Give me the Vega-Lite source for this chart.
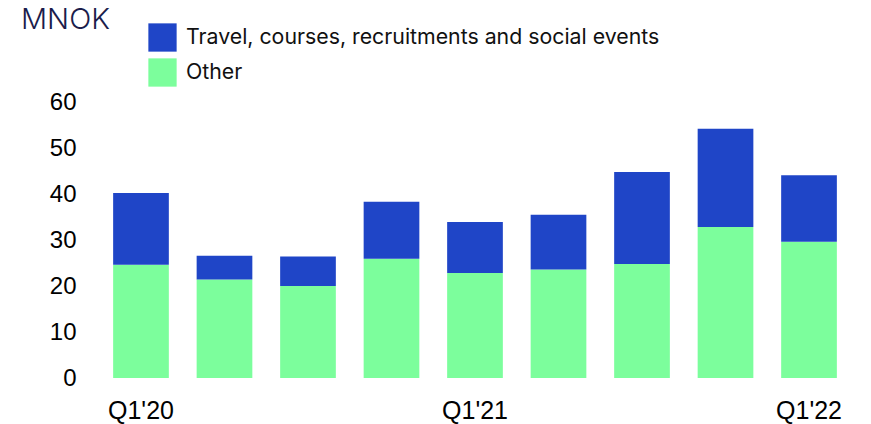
{
  "$schema": "https://vega.github.io/schema/vega-lite/v6.json",
  "width": 780,
  "height": 276,
  "autosize": "none",
  "padding": {"left": 85, "top": 102, "right": 6, "bottom": 46},
  "background": "white",
  "config": {"view": {"stroke": null}},
  "data": {
    "values": [
      {"quarter": "Q1'20", "category": "Other", "value": 24.6},
      {"quarter": "Q1'20", "category": "Travel, courses, recruitments and social events", "value": 15.6},
      {"quarter": "Q2'20", "category": "Other", "value": 21.4},
      {"quarter": "Q2'20", "category": "Travel, courses, recruitments and social events", "value": 5.2},
      {"quarter": "Q3'20", "category": "Other", "value": 20.0},
      {"quarter": "Q3'20", "category": "Travel, courses, recruitments and social events", "value": 6.4},
      {"quarter": "Q4'20", "category": "Other", "value": 25.9},
      {"quarter": "Q4'20", "category": "Travel, courses, recruitments and social events", "value": 12.4},
      {"quarter": "Q1'21", "category": "Other", "value": 22.8},
      {"quarter": "Q1'21", "category": "Travel, courses, recruitments and social events", "value": 11.1},
      {"quarter": "Q2'21", "category": "Other", "value": 23.6},
      {"quarter": "Q2'21", "category": "Travel, courses, recruitments and social events", "value": 11.9},
      {"quarter": "Q3'21", "category": "Other", "value": 24.8},
      {"quarter": "Q3'21", "category": "Travel, courses, recruitments and social events", "value": 20.0},
      {"quarter": "Q4'21", "category": "Other", "value": 32.8},
      {"quarter": "Q4'21", "category": "Travel, courses, recruitments and social events", "value": 21.4},
      {"quarter": "Q1'22", "category": "Other", "value": 29.6},
      {"quarter": "Q1'22", "category": "Travel, courses, recruitments and social events", "value": 14.5}
    ]
  },
  "mark": {"type": "bar"},
  "encoding": {
    "x": {
      "field": "quarter",
      "type": "nominal",
      "sort": null,
      "scale": {"paddingInner": 0.333, "paddingOuter": 0.337},
      "axis": {
        "title": null,
        "ticks": false,
        "domain": false,
        "labelAngle": 0,
        "labelFont": "Liberation Sans",
        "labelFontSize": 25,
        "labelColor": "#000000",
        "labelPadding": 20,
        "labelExpr": "substring(datum.value, 0, 2) === 'Q1' ? datum.value : ''"
      }
    },
    "y": {
      "field": "value",
      "type": "quantitative",
      "stack": "zero",
      "scale": {"domain": [0, 60], "nice": false},
      "axis": {
        "values": [0, 10, 20, 30, 40, 50, 60],
        "grid": false,
        "ticks": false,
        "domain": false,
        "labelFont": "Liberation Sans",
        "labelFontSize": 24,
        "labelColor": "#000000",
        "labelPadding": 9,
        "title": "MNOK",
        "titleAngle": 0,
        "titleX": -64.5,
        "titleY": -74,
        "titleAlign": "left",
        "titleBaseline": "alphabetic",
        "titleFont": "Inter",
        "titleFontSize": 29,
        "titleFontWeight": 300,
        "titleColor": "#1b1c4b"
      }
    },
    "color": {
      "field": "category",
      "type": "nominal",
      "scale": {
        "domain": ["Travel, courses, recruitments and social events", "Other"],
        "range": ["#1f45c7", "#7cfe9c"]
      },
      "legend": {
        "title": null,
        "orient": "none",
        "legendX": 63,
        "legendY": -79,
        "padding": 0,
        "symbolType": "square",
        "symbolSize": 800,
        "symbolStrokeWidth": 0,
        "symbolOpacity": 1,
        "labelFont": "Inter",
        "labelFontSize": 21.3,
        "labelColor": "#111111",
        "labelOffset": 9,
        "labelLimit": 700,
        "rowPadding": 6
      }
    },
    "order": {"field": "category", "sort": "ascending"}
  }
}
